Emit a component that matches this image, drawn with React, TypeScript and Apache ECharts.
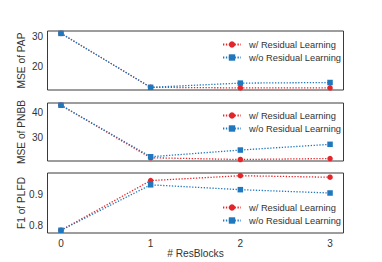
import React, { useEffect, useRef } from "react";
import * as echarts from "echarts";

const resBlocks = [0, 1, 2, 3];
const xTicks = [0, 1, 2, 3];
const seriesNames = ["w/ Residual Learning", "w/o Residual Learning"];

const papWith = [31.1, 13.1, 12.9, 12.9];
const papWithout = [31.1, 13.1, 14.5, 14.7];
const pnbbWith = [43.1, 22.0, 21.3, 21.7];
const pnbbWithout = [43.1, 22.4, 25.1, 27.4];
const plfdWith = [0.783, 0.947, 0.963, 0.958];
const plfdWithout = [0.783, 0.933, 0.917, 0.906];

const papTicks = [20, 30];
const pnbbTicks = [30, 40];
const plfdTicks = [0.8, 0.9];

const panelNames = ["MSE of PAP", "MSE of PNBB", "F1 of PLFD"];
const xName = "# ResBlocks";

const RED = "#e3262b";
const BLUE = "#1f77be";
const FONT = "Liberation Sans, Arial, sans-serif";

export default function App() {
  const ref = useRef<HTMLDivElement>(null);
  useEffect(() => {
    document.body.style.margin = "0";
    const chart = echarts.init(ref.current!, null, { renderer: "svg" });
    const grids = [
      { left: 47.5, right: 38.5, top: 31, height: 59 },
      { left: 47.5, right: 38.5, top: 103, height: 58 },
      { left: 47.5, right: 38.5, top: 173, height: 60 },
    ].map((g) => ({ ...g, show: true, borderColor: "#3a3a3a", borderWidth: 1, backgroundColor: "transparent" }));

    const yRanges = [
      { min: 12.2, max: 31.9, ticks: papTicks, fmt: (v: number) => String(v) },
      { min: 20.7, max: 44, ticks: pnbbTicks, fmt: (v: number) => String(v) },
      { min: 0.774, max: 0.972, ticks: plfdTicks, fmt: (v: number) => v.toFixed(1) },
    ];

    const xAxis = [0, 1, 2].map((i) => ({
      type: "value",
      gridIndex: i,
      min: -0.15,
      max: 3.15,
      axisLine: { show: false },
      axisTick: { show: false },
      splitLine: { show: false },
      axisLabel: {
        show: i === 2,
        customValues: xTicks,
        margin: 5,
        fontSize: 10,
        color: "#333",
        fontFamily: FONT,
      },
      name: i === 2 ? xName : "",
      nameLocation: "middle",
      nameGap: 15,
      nameMoveOverlap: false,
      nameTextStyle: { fontSize: 10.2, color: "#333", fontFamily: FONT },
    }));

    const yAxis = yRanges.map((r, i) => ({
      type: "value",
      gridIndex: i,
      min: r.min,
      max: r.max,
      axisLine: { show: false },
      axisTick: { show: false },
      splitLine: { show: false },
      axisLabel: {
        customValues: r.ticks,
        formatter: r.fmt,
        margin: 4.5,
        fontSize: 10,
        color: "#333",
        fontFamily: FONT,
      },
      name: panelNames[i],
      nameLocation: "middle",
      nameGap: 21.5,
      nameMoveOverlap: false,
      nameTextStyle: { fontSize: 10.2, color: "#333", fontFamily: FONT },
    }));

    const data = [
      [papWith, papWithout],
      [pnbbWith, pnbbWithout],
      [plfdWith, plfdWithout],
    ];

    const series: any[] = [];
    data.forEach((pair, i) => {
      pair.forEach((vals, j) => {
        series.push({
          type: "line",
          name: seriesNames[j],
          xAxisIndex: i,
          yAxisIndex: i,
          data: resBlocks.map((x, k) => [x, vals[k]]),
          symbol: j === 0 ? "circle" : "rect",
          symbolSize: 5.5,
          itemStyle: { color: j === 0 ? RED : BLUE },
          lineStyle: { color: j === 0 ? RED : BLUE, width: 1.3, type: [1.3, 1.6] },
          z: 2 + j,
        });
      });
    });

    const legendTops = [35, 106, 198];
    const legend = legendTops.map((t) => ({
      data: seriesNames,
      orient: "vertical",
      left: 217,
      top: t,
      itemWidth: 18,
      itemHeight: 8,
      itemGap: 4,
      textStyle: { fontSize: 9.3, color: "#333", fontFamily: FONT, padding: [0, 0, 0, 3] },
      selectedMode: false,
    }));

    chart.setOption({
      animation: false,
      backgroundColor: "#fff",
      grid: grids,
      xAxis,
      yAxis,
      legend,
      series,
    });
    return () => chart.dispose();
  }, []);
  return <div ref={ref} style={{ width: 382, height: 262 }} />;
}
